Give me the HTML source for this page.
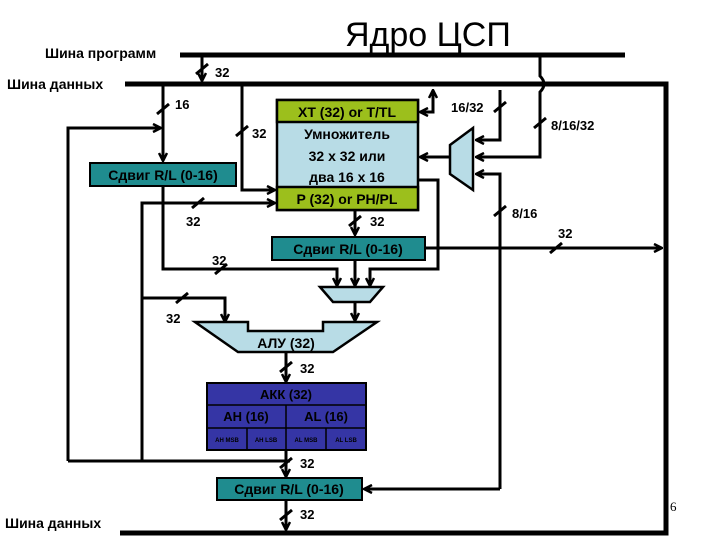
<!DOCTYPE html>
<html><head><meta charset="utf-8"><style>
html,body{margin:0;padding:0;background:#fff;}
svg{display:block;}
text{font-family:"Liberation Sans","DejaVu Sans",sans-serif;font-weight:bold;}
</style></head><body>
<svg width="720" height="540" viewBox="0 0 720 540" xmlns="http://www.w3.org/2000/svg">
<defs>
<marker id="a" markerWidth="10" markerHeight="10" refX="9" refY="5" orient="auto" markerUnits="userSpaceOnUse">
<path d="M1,1 L9,5 L1,9" fill="none" stroke="#000" stroke-width="2.5"/>
</marker>
</defs>
<text x="345" y="46" font-size="34" style="font-weight:normal">Ядро ЦСП</text>
<text x="45" y="58" font-size="14">Шина программ</text>
<text x="7" y="89" font-size="14">Шина данных</text>
<text x="5" y="528" font-size="14">Шина данных</text>
<text x="670" y="511" font-size="13" style="font-weight:normal;font-family:'Liberation Serif',serif">6</text>

<g stroke="#000" fill="none">
<line x1="180" y1="55" x2="625" y2="55" stroke-width="5"/>
<polyline points="125,84 666,84 666,533 120,533" stroke-width="5"/>
<g stroke-width="3">
<line x1="202" y1="57" x2="202" y2="81" marker-end="url(#a)"/>
<line x1="196" y1="74" x2="208" y2="64"/>
<path d="M540,57 L540,76 Q548,84 540,92 L540,157 L476,157" marker-end="url(#a)"/>
<line x1="534" y1="128" x2="546" y2="118"/>
<polyline points="500,90 500,140 476,140" marker-end="url(#a)"/>
<line x1="494" y1="112" x2="506" y2="102"/>
<polyline points="500,489 500,174 476,174" marker-end="url(#a)"/>
<line x1="494" y1="216" x2="506" y2="206"/>
<polyline points="500,489 364,489" marker-end="url(#a)"/>
<line x1="450" y1="157" x2="420" y2="157" marker-end="url(#a)"/>
<polyline points="420,112 433,112 433,90" marker-end="url(#a)"/>
<line x1="433" y1="112" x2="420" y2="112" marker-end="url(#a)"/>
<polyline points="418,180 438,180 438,269 370,269 370,286" marker-end="url(#a)"/>
<line x1="163" y1="86" x2="163" y2="161" marker-end="url(#a)"/>
<line x1="157" y1="114" x2="169" y2="104"/>
<polyline points="68,461 68,128 161,128" marker-end="url(#a)"/>
<polyline points="242,86 242,190 275,190" marker-end="url(#a)"/>
<line x1="236" y1="136" x2="248" y2="126"/>
<polyline points="142,461 142,203 275,203" marker-end="url(#a)"/>
<line x1="192" y1="208" x2="204" y2="198"/>
<polyline points="163,186 163,269 337,269 337,286" marker-end="url(#a)"/>
<line x1="215" y1="274" x2="227" y2="264"/>
<line x1="355" y1="210" x2="355" y2="235" marker-end="url(#a)"/>
<line x1="349" y1="226" x2="361" y2="216"/>
<line x1="355" y1="260" x2="355" y2="286" marker-end="url(#a)"/>
<line x1="425" y1="248" x2="662" y2="248" marker-end="url(#a)"/>
<line x1="550" y1="253" x2="562" y2="243"/>
<polyline points="142,298 225,298 225,322" marker-end="url(#a)"/>
<line x1="176" y1="303" x2="188" y2="293"/>
<line x1="355" y1="302" x2="355" y2="321" marker-end="url(#a)"/>
<line x1="286" y1="352" x2="286" y2="382" marker-end="url(#a)"/>
<line x1="280" y1="372" x2="292" y2="362"/>
<polyline points="68,461 290,461"/>
<line x1="286" y1="450" x2="286" y2="477" marker-end="url(#a)"/>
<line x1="280" y1="468" x2="292" y2="458"/>
<line x1="286" y1="500" x2="286" y2="530" marker-end="url(#a)"/>
<line x1="280" y1="520" x2="292" y2="510"/>
</g>
</g>

<polygon points="450,145 473,128 473,190 450,174" fill="#b8dce6" stroke="#000" stroke-width="2.5"/>
<polygon points="320,287 383,287 370,302 333,302" fill="#b8dce6" stroke="#000" stroke-width="2.5"/>
<polygon points="195,322 248,322 248,331 323,331 323,322 377,322 333,352 238,352" fill="#b8dce6" stroke="#000" stroke-width="2.5"/>
<text x="286" y="348" font-size="14" text-anchor="middle">АЛУ (32)</text>

<rect x="277" y="100" width="141" height="110" fill="#b8dce6" stroke="#000" stroke-width="2.5"/>
<rect x="277" y="100" width="141" height="22" fill="#9cbf1c" stroke="#000" stroke-width="2.5"/>
<rect x="277" y="187" width="141" height="23" fill="#9cbf1c" stroke="#000" stroke-width="2.5"/>
<text x="347" y="117" font-size="14" text-anchor="middle">XT (32) or T/TL</text>
<text x="347" y="139" font-size="14" text-anchor="middle">Умножитель</text>
<text x="347" y="161" font-size="14" text-anchor="middle">32 x 32 или</text>
<text x="347" y="182" font-size="14" text-anchor="middle">два 16 x 16</text>
<text x="347" y="204" font-size="14" text-anchor="middle">P (32) or PH/PL</text>

<rect x="90" y="163" width="146" height="23" fill="#1f8c8f" stroke="#000" stroke-width="2"/>
<text x="163" y="180" font-size="14" text-anchor="middle">Сдвиг R/L (0-16)</text>
<rect x="272" y="237" width="153" height="23" fill="#1f8c8f" stroke="#000" stroke-width="2"/>
<text x="348" y="254" font-size="14" text-anchor="middle">Сдвиг R/L (0-16)</text>
<rect x="217" y="478" width="145" height="22" fill="#1f8c8f" stroke="#000" stroke-width="2"/>
<text x="289" y="494" font-size="14" text-anchor="middle">Сдвиг R/L (0-16)</text>

<rect x="207" y="383" width="159" height="67" fill="#3535a5" stroke="#000" stroke-width="2"/>
<g stroke="#000" stroke-width="1.5">
<line x1="207" y1="405" x2="366" y2="405"/>
<line x1="207" y1="428" x2="366" y2="428"/>
<line x1="286" y1="405" x2="286" y2="450"/>
<line x1="247" y1="428" x2="247" y2="450"/>
<line x1="326" y1="428" x2="326" y2="450"/>
</g>
<text x="286" y="399" font-size="13" text-anchor="middle">АКК (32)</text>
<text x="246" y="421" font-size="13" text-anchor="middle">AH (16)</text>
<text x="326" y="421" font-size="13" text-anchor="middle">AL (16)</text>
<g font-size="6" text-anchor="middle" style="font-weight:normal">
<text x="227" y="442">AH MSB</text><text x="266" y="442">AH LSB</text>
<text x="306" y="442">AL MSB</text><text x="346" y="442">AL LSB</text>
</g>

<g font-size="13">
<text x="215" y="77">32</text>
<text x="175" y="109">16</text>
<text x="252" y="138">32</text>
<text x="186" y="226">32</text>
<text x="370" y="226">32</text>
<text x="212" y="265">32</text>
<text x="166" y="323">32</text>
<text x="451" y="112">16/32</text>
<text x="551" y="130">8/16/32</text>
<text x="512" y="218">8/16</text>
<text x="558" y="238">32</text>
<text x="300" y="373">32</text>
<text x="300" y="468">32</text>
<text x="300" y="519">32</text>
</g>
</svg>
</body></html>
